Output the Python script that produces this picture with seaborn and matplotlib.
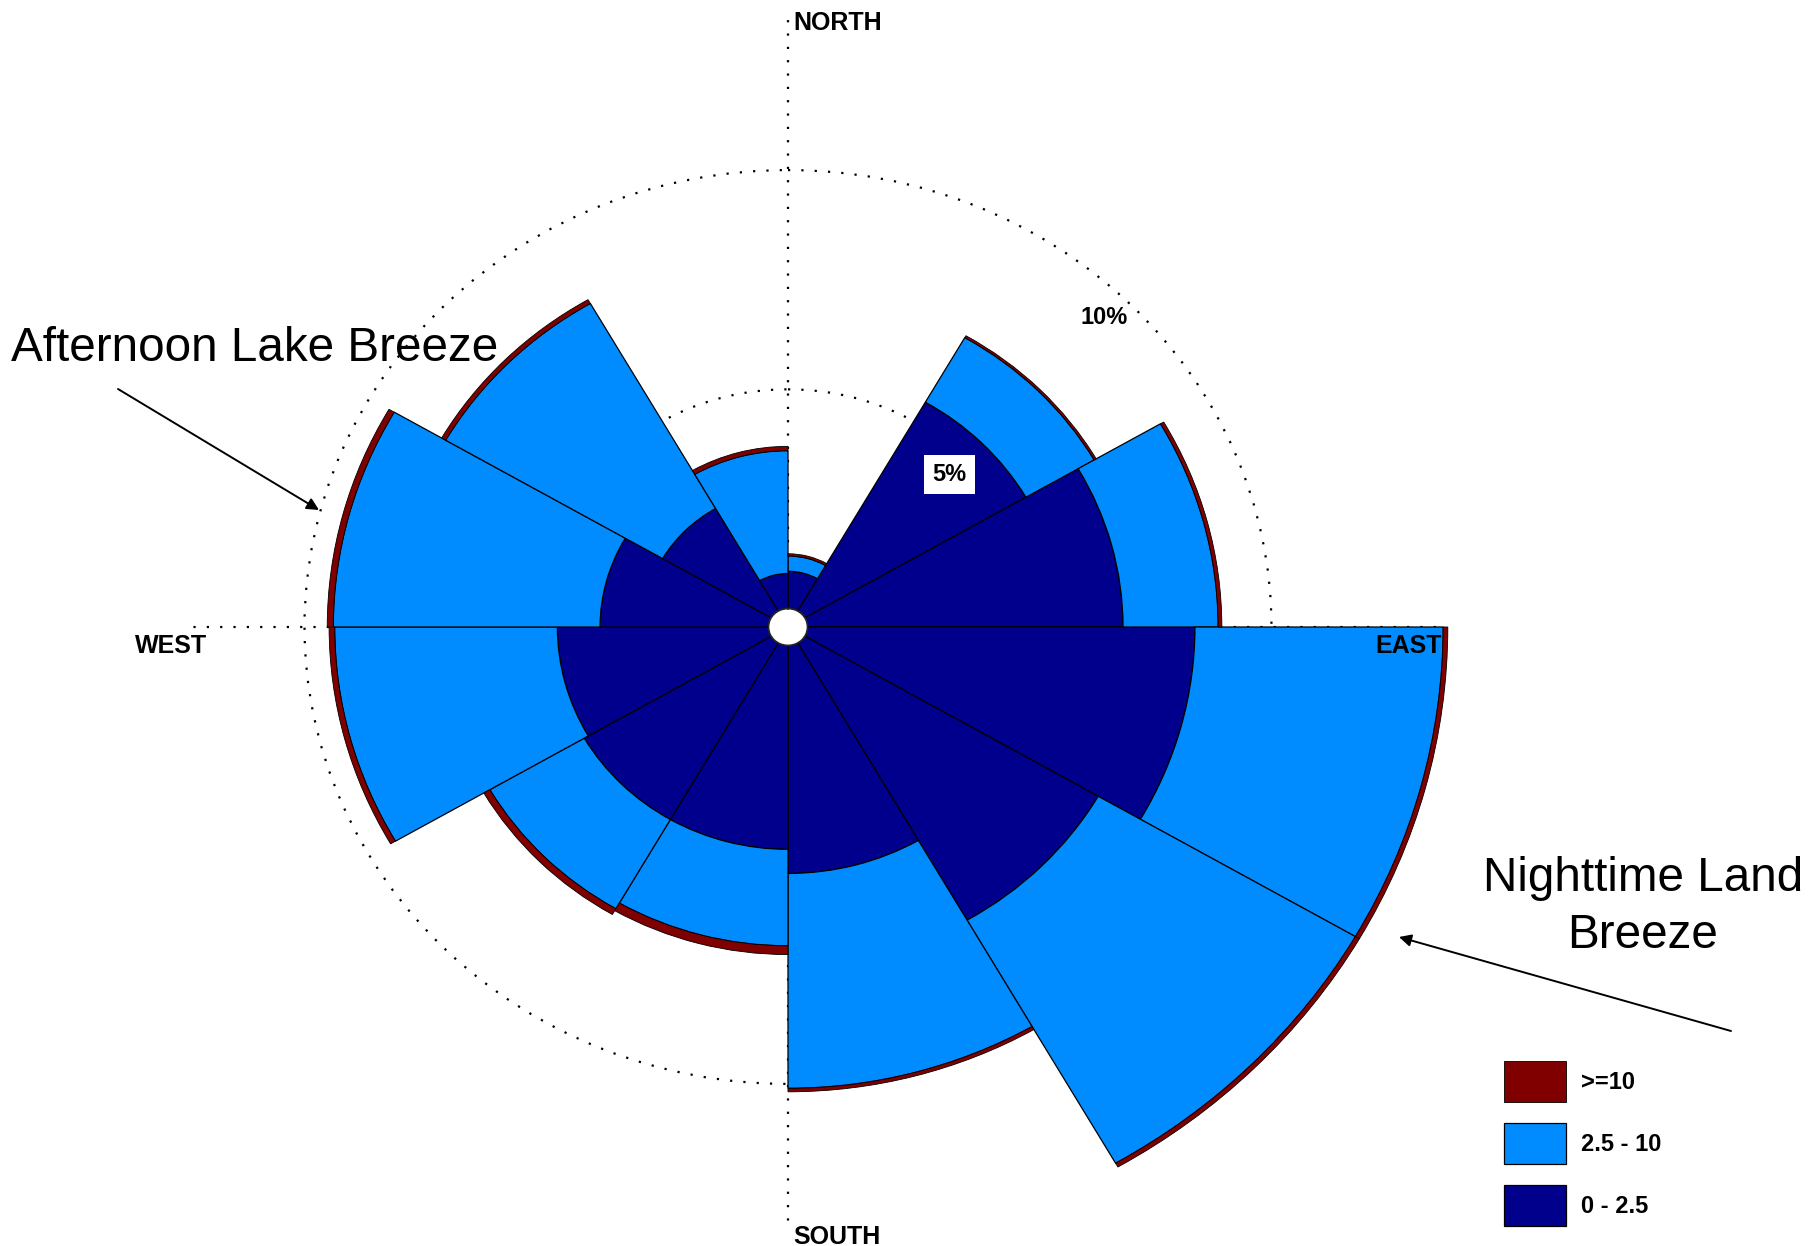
import numpy as np
import matplotlib
matplotlib.use("Agg")
import matplotlib.pyplot as plt
import seaborn as sns

# ---------------- data ----------------
sector_centers_deg = [15, 45, 75, 105, 135, 165, 195, 225, 255, 285, 315, 345]
speed_bins = ["0 - 2.5", "2.5 - 10", ">=10"]
freq_low = [0.85, 5.5, 6.8, 8.35, 7.3, 5.2, 4.65, 4.65, 4.55, 3.63, 2.7, 0.8]     # 0 - 2.5
freq_mid = [0.35, 1.7, 2.05, 5.35, 6.4, 4.9, 2.2, 2.35, 4.8, 5.75, 5.4, 2.8]      # 2.5 - 10
freq_high = [0.05, 0.05, 0.08, 0.1, 0.1, 0.08, 0.2, 0.15, 0.12, 0.13, 0.1, 0.1]   # >= 10
ring_values = [5, 10]
ring_labels = ["5%", "10%"]
compass_labels = ["NORTH", "EAST", "SOUTH", "WEST"]

# ---------------- style ----------------
sns.set_theme(style="white")
plt.rcParams["font.family"] = ["Liberation Sans", "DejaVu Sans"]
plt.rcParams["text.color"] = "black"

colors = {"0 - 2.5": "#00008C", "2.5 - 10": "#008CFF", ">=10": "#800000"}

W, H = 1810, 1246
fig = plt.figure(figsize=(W / 100, H / 100), dpi=100)
fig.patch.set_facecolor("white")

cx, cy = 788, 627          # centre in pixels (from top-left)
kx, ky = 46.4, 43.85       # pixels per percent
rmax, r0 = 14.0, 0.42
hx = (rmax + r0) * kx
hy = (rmax + r0) * ky
ax = fig.add_axes([(cx - hx) / W, (H - cy - hy) / H, 2 * hx / W, 2 * hy / H],
                  projection="polar")
ax.set_aspect("auto")
ax.set_theta_zero_location("N")
ax.set_theta_direction(-1)
ax.set_ylim(0, rmax)
ax.set_rorigin(-r0)
ax.set_facecolor("none")
for sp in ax.spines.values():
    sp.set_visible(False)
ax.set_xticks([])
ax.set_rgrids(ring_values, labels=["", ""])
ax.xaxis.grid(False)
ax.yaxis.grid(True, color="black", linestyle=(0, (1, 5)), linewidth=1.6)
ax.set_axisbelow(True)

theta = np.deg2rad(sector_centers_deg)
width = np.deg2rad(30)
low = np.array(freq_low)
mid = np.array(freq_mid)
high = np.array(freq_high)

b1 = ax.bar(theta, low, width=width, bottom=0, color=colors["0 - 2.5"],
            edgecolor="black", linewidth=0.9, zorder=2, label="0 - 2.5")
b2 = ax.bar(theta, mid, width=width, bottom=low, color=colors["2.5 - 10"],
            edgecolor="black", linewidth=0.9, zorder=2, label="2.5 - 10")
b3 = ax.bar(theta, high, width=width, bottom=low + mid, color=colors[">=10"],
            edgecolor="black", linewidth=0.6, zorder=2, label=">=10")

# compass spokes (dotted)
spoke_angles = np.deg2rad([0, 90, 180, 270])
spoke_len = [13.6, 13.6, 13.2, 12.6]
for a, L in zip(spoke_angles, spoke_len):
    ax.plot([a, a], [0, L], color="black", linestyle=(0, (1, 5)), linewidth=1.6,
            zorder=1)

bold = dict(fontsize=18, fontweight="bold", color="black", zorder=6,
            annotation_clip=False, textcoords="offset pixels")
ax.annotate(compass_labels[0], xy=(0, 13.36), xytext=(5, 0),
            ha="left", va="center", **bold)
ax.annotate(compass_labels[1], xy=(np.pi / 2, 13.67), xytext=(0, -7),
            ha="right", va="top", **bold)
ax.annotate(compass_labels[2], xy=(np.pi, 13.5), xytext=(5, 0),
            ha="left", va="center", **bold)
ax.annotate(compass_labels[3], xy=(1.5 * np.pi, 13.65), xytext=(0, -7),
            ha="left", va="top", **bold)

ax.text(np.deg2rad(45), 4.5, ring_labels[0], ha="center", va="center", fontsize=17,
        fontweight="bold", zorder=6,
        bbox=dict(facecolor="white", edgecolor="none", pad=6))
ax.text(np.deg2rad(44), 9.4, ring_labels[1], ha="center", va="center", fontsize=17,
        fontweight="bold", zorder=6)

# legend
handles = [b3, b2, b1]
fig.legend(handles, [">=10", "2.5 - 10", "0 - 2.5"], loc="upper left",
           bbox_to_anchor=(1504 / W, 1 - 1061 / H), frameon=False,
           prop={"size": 17, "weight": "bold"}, handlelength=2.62, handleheight=2.29,
           labelspacing=0.9, handletextpad=0.63, borderpad=0, borderaxespad=0)

# annotations
def fp(x, y):
    return (x / W, 1 - y / H)

fig.text(*fp(11, 361), "Afternoon Lake Breeze", fontsize=34.3, ha="left", va="baseline",
         color="black")
fig.text(*fp(1643, 891), "Nighttime Land", fontsize=34.3, ha="center", va="baseline",
         color="black")
fig.text(*fp(1643, 948), "Breeze", fontsize=34.3, ha="center", va="baseline",
         color="black")
arrow = dict(arrowstyle="-|>", color="black", lw=1.4, mutation_scale=18, shrinkA=0, shrinkB=0)
fig.add_artist(matplotlib.patches.FancyArrowPatch(fp(118, 389), fp(319, 510),
               transform=fig.transFigure, **arrow))
fig.add_artist(matplotlib.patches.FancyArrowPatch(fp(1731, 1031), fp(1399, 937),
               transform=fig.transFigure, **arrow))

fig.savefig("out.png", dpi=100, facecolor="white")
